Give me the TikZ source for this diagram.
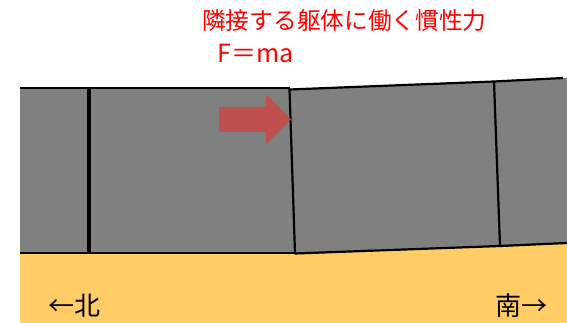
\documentclass[tikz,border=0pt]{standalone}
\usepackage{fontspec}
\newfontfamily\jpfont{Noto Sans CJK JP}
\definecolor{bodygray}{HTML}{808080}
\definecolor{groundyellow}{HTML}{FFCC66}
\definecolor{forcered}{HTML}{C0504D}
\begin{document}
\begin{tikzpicture}[x=1pt,y=-1pt,
  body/.style={fill=bodygray},
  edge/.style={draw,line width=2.2pt,line join=round},
  label/.style={inner sep=0pt,font=\jpfont\fontsize{26}{26}\selectfont}]
\useasboundingbox (0,0) rectangle (567,323);
% ground
\path[fill=groundyellow] (20,253) -- (295,253) -- (500,246) -- (567,243) -- (567,323) -- (20,323) -- cycle;
% bodies on the north side
\path[body] (20,88) -- (290,88) -- (295,253) -- (20,253) -- cycle;
\path[edge] (20,88) -- (290,88);
\path[edge] (20,253) -- (295,253);
\path[edge,line width=3.2pt] (89,88) -- (89,253);
% tilted bodies on the south side
\path[body] (494,81.5) -- (567,78) -- (567,243) -- (500,246) -- cycle;
\path[edge] (494,81.5) -- (563,78);
\path[edge] (500,246) -- (567,243);
\path[body,edge] (289.5,89.5) -- (494,81.5) -- (500,246) -- (295,253.5) -- cycle;
% inertial force
\path[fill=forcered] (219,107) -- (266,107) -- (266,94) -- (291,119.5) -- (266,144) -- (266,132) -- (219,132) -- cycle;
\node[label,anchor=west,text=red,font=\jpfont\fontsize{23.7}{23.7}\selectfont] (title) at (202,20.5) {隣接する躯体に働く慣性力};
\node[label,anchor=west,text=red,font=\jpfont\fontsize{25}{25}\selectfont] (formula) at (217,54) {F＝ma};
\node[label,anchor=west] (north) at (48,305.5) {←北};
\node[label,anchor=east] (south) at (548,305.5) {南→};
\end{tikzpicture}
\end{document}
